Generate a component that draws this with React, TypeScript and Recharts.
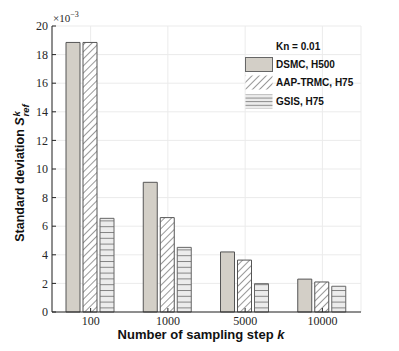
import React from "react";
import { BarChart, Bar, XAxis, YAxis, CartesianGrid } from "recharts";

const steps = ["100", "1000", "5000", "10000"];
const dsmcH500 = [18.85, 9.07, 4.2, 2.3];
const aapTrmcH75 = [18.85, 6.6, 3.63, 2.1];
const gsisH75 = [6.55, 4.52, 1.98, 1.8];
const yTicks = [0, 2, 4, 6, 8, 10, 12, 14, 16, 18, 20];

const chartData = steps.map((name, i) => ({
  name,
  dsmc: dsmcH500[i],
  aap: aapTrmcH75[i],
  gsis: gsisH75[i],
}));

const axisColor = "#262626";
const serif = "'Liberation Serif', 'DejaVu Serif', serif";
const sans = "'Liberation Sans', Arial, sans-serif";

const Patterns = ({ suffix, gap }: { suffix: string; gap: number }) => (
  <defs>
    <pattern id={`hatch${suffix}`} width="5" height="5" patternUnits="userSpaceOnUse" patternTransform="rotate(45)">
      <rect width="5" height="5" fill="#ffffff" />
      <line x1="0" y1="0" x2="0" y2="5" stroke="#333" strokeWidth="1" />
    </pattern>
    <pattern id={`hlines${suffix}`} width="6" height={gap} patternUnits="userSpaceOnUse">
      <rect width="6" height={gap} fill="#ececec" />
      <line x1="0" y1="0.5" x2="6" y2="0.5" stroke="#777" strokeWidth="0.9" />
    </pattern>
  </defs>
);

// legend swatches
const legendItems = [
  { label: "DSMC, H500", fill: "#d3cfc7", stroke: "#666" },
  { label: "AAP-TRMC, H75", fill: "url(#hatchL)", stroke: "none" },
  { label: "GSIS, H75", fill: "url(#hlinesL)", stroke: "none" },
];

const LegendBox = () => (
  <div style={{ fontFamily: sans, fontWeight: "bold", fontSize: 10, color: "#111" }}>
    <div style={{ marginLeft: 31, height: 16, lineHeight: "16px" }}>Kn = 0.01</div>
    {legendItems.map((it) => (
      <div key={it.label} style={{ display: "flex", alignItems: "center", height: 18.5 }}>
        <svg width={28} height={15} style={{ display: "block" }}>
          <Patterns suffix="L" gap={3.6} />
          <rect x={0.5} y={0.5} width={27} height={14} fill={it.fill} stroke={it.stroke} strokeWidth={1} />
        </svg>
        <span style={{ marginLeft: 3 }}>{it.label}</span>
      </div>
    ))}
  </div>
);

export default function App() {
  return (
    <div style={{ position: "absolute", left: 0, top: 0, width: 399, height: 351, background: "#fff" }}>
      <BarChart
        width={399}
        height={351}
        data={chartData}
        margin={{ top: 26, right: 38, left: 20, bottom: 19 }}
        barCategoryGap={14}
        barGap={3}
      >
        <Patterns suffix="" gap={5.8} />
        <CartesianGrid stroke="#ebebeb" strokeWidth={1} />
        <XAxis
          dataKey="name"
          height={20}
          stroke={axisColor}
          tickSize={-4}
          tickMargin={8}
          tick={{ fill: axisColor, fontFamily: serif, fontSize: 12 }}
        />
        <XAxis xAxisId="top" orientation="top" dataKey="name" height={0} tick={false} tickLine={false} stroke={axisColor} />
        <YAxis
          width={32}
          domain={[0, 20]}
          ticks={yTicks}
          interval={0}
          stroke={axisColor}
          tickSize={-4}
          tickMargin={8}
          tick={{ fill: axisColor, fontFamily: serif, fontSize: 12 }}
        />
        <YAxis
          yAxisId="right"
          orientation="right"
          width={0}
          domain={[0, 20]}
          ticks={yTicks}
          tick={false}
          tickSize={-4}
          stroke={axisColor}
        />
        <Bar dataKey="dsmc" fill="#d3cfc7" stroke="#555" strokeWidth={1} isAnimationActive={false} />
        <Bar dataKey="aap" fill="url(#hatch)" stroke="#555" strokeWidth={1} isAnimationActive={false} />
        <Bar dataKey="gsis" fill="url(#hlines)" stroke="#666" strokeWidth={1} isAnimationActive={false} />
      </BarChart>
      <div style={{ position: "absolute", left: 245, top: 39 }}>
        <LegendBox />
      </div>
      <div style={{ position: "absolute", left: 53, top: 10, fontFamily: serif, fontSize: 11, color: axisColor }}>
        ×10<sup style={{ fontSize: 8 }}>−3</sup>
      </div>
      <div
        style={{
          position: "absolute",
          left: 201,
          top: 327,
          transform: "translateX(-50%)",
          whiteSpace: "nowrap",
          fontFamily: sans,
          fontWeight: "bold",
          fontSize: 13,
          color: "#111",
        }}
      >
        Number of sampling step <i>k</i>
      </div>
      <div
        style={{
          position: "absolute",
          left: 21,
          top: 173,
          transform: "translate(-50%, -50%) rotate(-90deg)",
          whiteSpace: "nowrap",
          fontFamily: sans,
          fontWeight: "bold",
          fontSize: 12.5,
          color: "#111",
        }}
      >
        Standard deviation <i>S</i>
        <span style={{ display: "inline-flex", flexDirection: "column", verticalAlign: "middle", lineHeight: "9px", fontSize: 9.5, marginLeft: 1 }}>
          <i>k</i>
          <i>ref</i>
        </span>
      </div>
    </div>
  );
}
